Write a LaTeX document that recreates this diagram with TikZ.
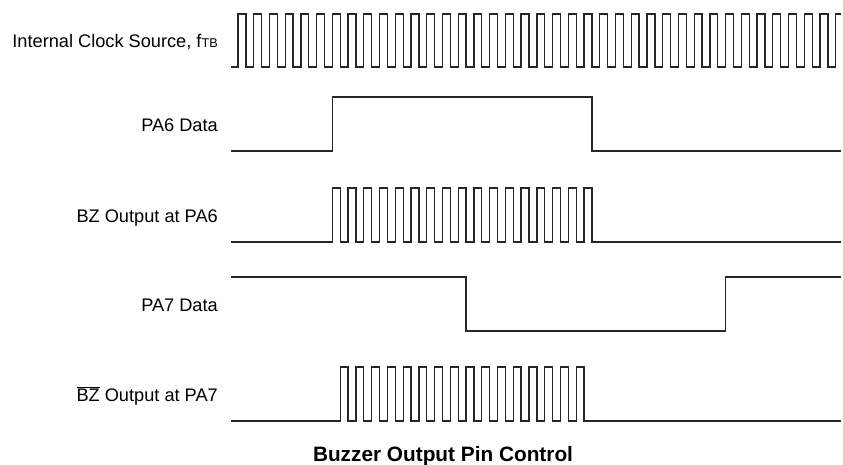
\documentclass[tikz,border=0pt]{standalone}
\usepackage{fontspec}
\setmainfont{Liberation Sans}
\usetikzlibrary{positioning}

\begin{document}
\begin{tikzpicture}[
        x=1pt, y=-1pt,
        wave/.style={line width=1.3pt, draw=black!85, line join=miter},
        lbl/.style={anchor=base east, inner sep=0pt, font=\fontsize{18.2}{22}\selectfont},
        title/.style={anchor=base, inner sep=0pt, font=\bfseries\fontsize{20.8}{24}\selectfont}
    ]
    \def\per{15.73}
    \useasboundingbox (0,0) rectangle (843,464);

    % signal names
    \node (clk)  [lbl] at (218,47.5)  {Internal Clock Source, f{\fontsize{12.7}{14}\selectfont TB}};
    \node (pa6)  [lbl] at (218,131.5) {PA6 Data};
    \node (bz6)  [lbl] at (218,222.5) {BZ Output at PA6};
    \node (pa7)  [lbl] at (218,311.5) {PA7 Data};
    \node (bz7)  [lbl] at (218,401.5) {$\overline{\hbox{BZ}}$ Output at PA7};
    \node (title) [title] at (443,461) {Buzzer Output Pin Control};

    % internal clock
    \draw [wave] (231,67) -- (238,67)
        foreach \i in {1,...,38} {-- ++(0,-53) -- ++(\per/2,0) -- ++(0,53) -- ++(\per/2,0)}
        -- ++(0,-53) -- (841,14);

    % PA6 data
    \draw [wave] (231,151) -- ({238+6*\per},151) -- ++(0,-54)
        -- ({238+22.5*\per},97) -- ++(0,54) -- (841,151);

    % BZ output at PA6
    \draw [wave] (231,242) -- ({238+6*\per},242)
        foreach \i in {1,...,17} {-- ++(0,-54) -- ++(\per/2,0) -- ++(0,54) -- ++(\per/2,0)}
        -- (841,242);

    % PA7 data
    \draw [wave] (231,277) -- ({238+14.5*\per},277) -- ++(0,54)
        -- ({238+31*\per},331) -- ++(0,-54) -- (841,277);

    % BZ bar output at PA7
    \draw [wave] (231,421) -- ({238+6.5*\per},421)
        foreach \i in {1,...,16} {-- ++(0,-54) -- ++(\per/2,0) -- ++(0,54) -- ++(\per/2,0)}
        -- (841,421);

\end{tikzpicture}
\end{document}
